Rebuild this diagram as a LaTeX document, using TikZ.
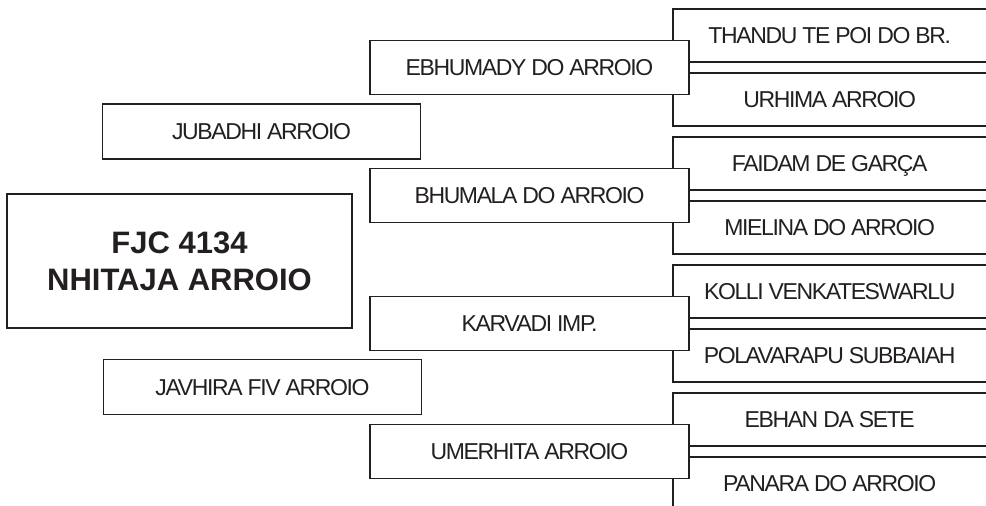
\documentclass[tikz,border=0pt]{standalone}
\usepackage{fontspec}
\setmainfont{Liberation Sans}
\newfontfamily\chartfont[LetterSpace=-6]{Liberation Sans}
\definecolor{ink}{HTML}{231F20}

\begin{document}
\begin{tikzpicture}[x=1pt,y=-1pt,
 cell/.style={draw=ink,text=ink,line width=1.8pt,fill=white,inner sep=0pt},
 namebox/.style={cell,minimum width=319pt,minimum height=54pt,text height=16.5pt,text depth=0pt,
   font=\chartfont\fontsize{23}{27}\selectfont},
 sirebox/.style={text=ink,minimum width=313pt,minimum height=53pt,inner sep=0pt,anchor=west,
   text height=16.5pt,text depth=0pt,font=\chartfont\fontsize{23}{27}\selectfont},
 openline/.style={draw=ink,line width=1.8pt}]
\useasboundingbox (0,0) rectangle (986,506);
\clip (0,0) rectangle (986,506);
\node[sirebox] (thandu) at (673,35.5) {THANDU TE POI DO BR.};
\node[sirebox] (urhima) at (673,99.5) {URHIMA ARROIO};
\node[sirebox] (faidam) at (673,163.5) {FAIDAM DE GARÇA};
\node[sirebox] (mielina) at (673,227.5) {MIELINA DO ARROIO};
\node[sirebox] (kolli) at (673,291.5) {KOLLI VENKATESWARLU};
\node[sirebox] (polavarapu) at (673,355.5) {POLAVARAPU SUBBAIAH};
\node[sirebox] (ebhan) at (673,419.5) {EBHAN DA SETE};
\node[sirebox] (panara) at (673,483.5) {PANARA DO ARROIO};
\foreach \n in {thandu,urhima,faidam,mielina,kolli,polavarapu,ebhan,panara}
  \draw[openline] (\n.north east) -- (\n.north west) -- (\n.south west) -- (\n.south east);
\node[namebox] (ebhumady) at (529.5,67.5) {EBHUMADY DO ARROIO};
\node[namebox] (bhumala) at (529.5,195.5) {BHUMALA DO ARROIO};
\node[namebox] (karvadi) at (529.5,323.5) {KARVADI IMP.};
\node[namebox] (umerhita) at (529.5,451.5) {UMERHITA ARROIO};
\node[namebox,minimum width=318pt,minimum height=55pt] (jubadhi) at (261.5,131.5) {JUBADHI ARROIO};
\node[namebox,minimum width=318pt,minimum height=55pt] (javhira) at (262.5,387) {JAVHIRA FIV ARROIO};
\node[cell,minimum width=345pt,minimum height=134pt,align=center,
  font=\bfseries\fontsize{31}{37}\selectfont] (nhitaja) at (179.5,261) {FJC 4134\\NHITAJA ARROIO};
\end{tikzpicture}
\end{document}
